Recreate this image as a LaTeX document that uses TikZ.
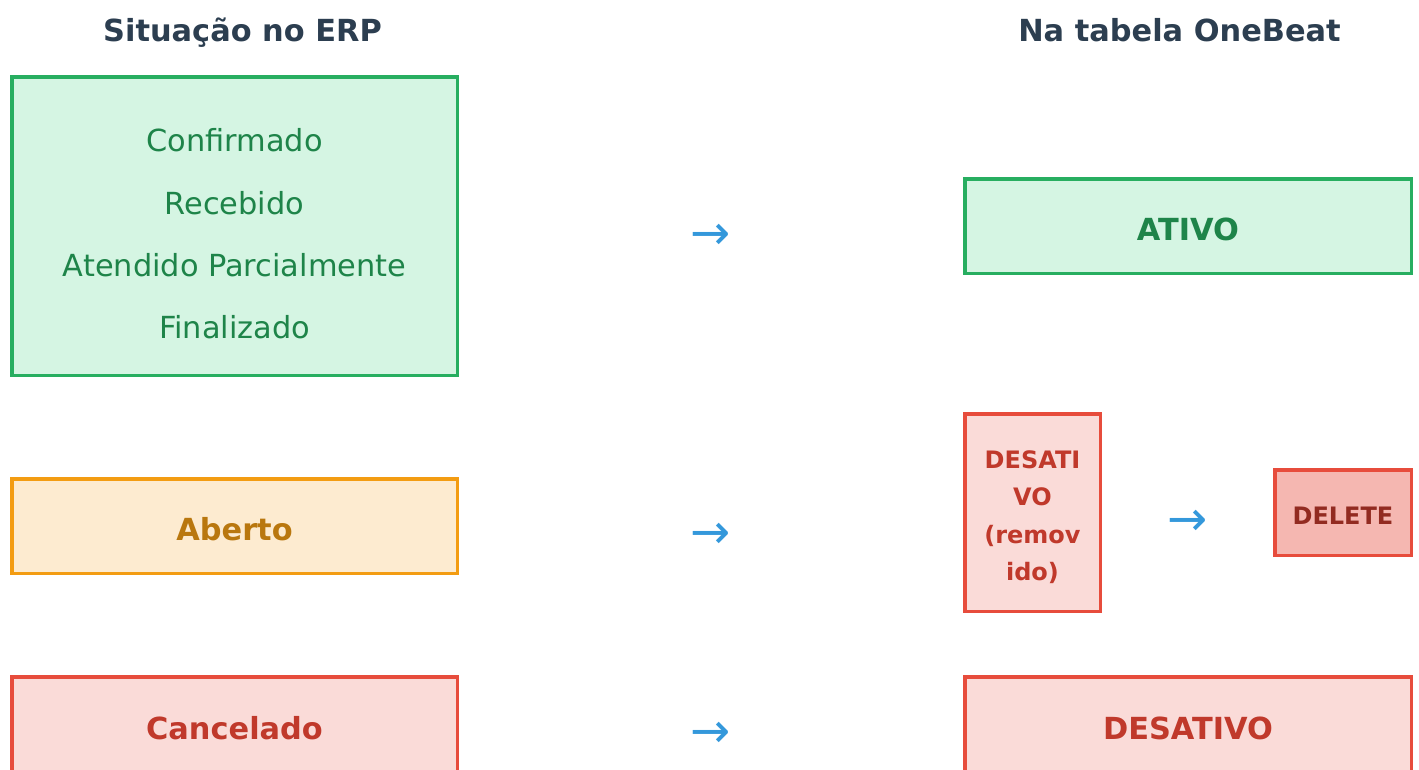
\documentclass[tikz,border=0pt]{standalone}
\usepackage{fontspec}
\setmainfont{DejaVu Sans}
\definecolor{hdr}{HTML}{2C3E50}
\definecolor{gstroke}{HTML}{27AE60}
\definecolor{gfill}{HTML}{D5F5E3}
\definecolor{gtext}{HTML}{1E8449}
\definecolor{ostroke}{HTML}{F39C12}
\definecolor{ofill}{HTML}{FDEBD0}
\definecolor{otext}{HTML}{B9770E}
\definecolor{rstroke}{HTML}{E74C3C}
\definecolor{rfill}{HTML}{FADBD8}
\definecolor{rtext}{HTML}{C0392B}
\definecolor{dfill}{HTML}{F5B7B1}
\definecolor{dtext}{HTML}{922B21}
\definecolor{arr}{HTML}{3498DB}
\tikzset{
  box/.style={draw, line width=3.5pt, rectangle, inner sep=0pt},
  greenbox/.style={box, draw=gstroke, fill=gfill},
  orangebox/.style={box, draw=ostroke, fill=ofill},
  redbox/.style={box, draw=rstroke, fill=rfill},
  delbox/.style={box, draw=rstroke, fill=dfill},
  lbl/.style={anchor=base, inner sep=0pt, font=\fontsize{30.4}{36}\selectfont},
  blbl/.style={anchor=base, inner sep=0pt, font=\fontsize{30.4}{36}\selectfont\bfseries},
  slbl/.style={anchor=base, inner sep=0pt, font=\fontsize{24}{28}\selectfont\bfseries},
  header/.style={anchor=base, inner sep=0pt, text=hdr, font=\fontsize{30.4}{36}\selectfont\bfseries},
  arrowsym/.style={inner sep=0pt, text=arr, font=\fontsize{48}{54}\selectfont},
}
\begin{document}
\begin{tikzpicture}[x=1pt,y=-1pt]
\useasboundingbox (0,0) rectangle (1419,769);
\begin{scope}
\clip (0,0) rectangle (1419,769);
% headers
\node[header] (h1) at (242.5,41) {Situação no ERP};
\node[header] (h2) at (1179.5,41) {Na tabela OneBeat};
% left boxes
\node[greenbox, minimum width=445.5pt, minimum height=298.5pt] (erpok) at (234.5,226) {};
\node[lbl, text=gtext] (l1) at (234.5,151.5) {Confirmado};
\node[lbl, text=gtext] (l2) at (234.5,214) {Recebido};
\node[lbl, text=gtext] (l3) at (234.5,276) {Atendido Parcialmente};
\node[lbl, text=gtext] (l4) at (234.5,338.5) {Finalizado};
\node[orangebox, minimum width=445.5pt, minimum height=94.5pt] (erpopen) at (234.5,526) {};
\node[blbl, text=otext] (lab) at (234.5,540) {Aberto};
\node[redbox, minimum width=445.5pt, minimum height=96.5pt] (erpcanc) at (234.5,725) {};
\node[blbl, text=rtext] (lcanc) at (234.5,739) {Cancelado};
% right boxes
\node[greenbox, minimum width=446.5pt, minimum height=94.5pt] (ativo) at (1188,226) {};
\node[blbl, text=gtext] (lat) at (1188,240) {ATIVO};
\node[redbox, minimum width=135.5pt, minimum height=197.5pt] (desrem) at (1032.5,512.5) {};
\node[slbl, text=rtext] (d1) at (1032.5,468) {DESATI};
\node[slbl, text=rtext] (d2) at (1032.5,505.5) {VO};
\node[slbl, text=rtext] (d3) at (1032.5,543) {(remov};
\node[slbl, text=rtext] (d4) at (1032.5,580.5) {ido)};
\node[delbox, minimum width=136.5pt, minimum height=85.5pt] (del) at (1343,512.5) {};
\node[slbl, text=dtext] (ldel) at (1343,524) {DELETE};
\node[redbox, minimum width=446.5pt, minimum height=96.5pt] (desat) at (1188,725) {};
\node[blbl, text=rtext] (ldes) at (1188,739) {DESATIVO};
% arrows
\node[arrowsym] (a1) at (710.5,237) {→};
\node[arrowsym] (a2) at (710.5,536) {→};
\node[arrowsym] (a3) at (710.5,735) {→};
\node[arrowsym] (a4) at (1188,523) {→};
\end{scope}
\end{tikzpicture}
\end{document}
